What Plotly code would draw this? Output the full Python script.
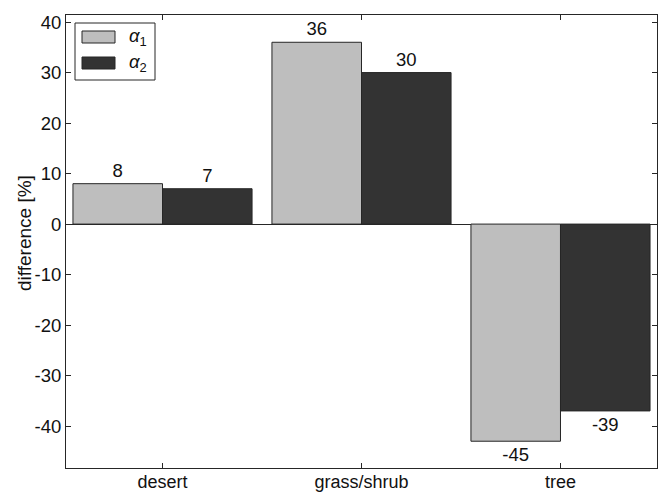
import plotly.graph_objects as go

categories = ["desert", "grass/shrub", "tree"]
alpha1_values = [8, 36, -43]
alpha2_values = [7, 30, -37]
alpha1_labels = ["8", "36", "-45"]
alpha2_labels = ["7", "30", "-39"]
y_tick_values = [-40, -30, -20, -10, 0, 10, 20, 30, 40]
y_tick_labels = ["-40", "-30", "-20", "-10", "0", "10", "20", "30", "40"]
y_title = "difference [%]"
series_names = ["<i>α</i><sub>1</sub>", "<i>α</i><sub>2</sub>"]
series_colors = ["#bebebe", "#333333"]
edge = "#262626"

fig = go.Figure()
for vals, labels, name, col in [(alpha1_values, alpha1_labels, series_names[0], series_colors[0]),
                                (alpha2_values, alpha2_labels, series_names[1], series_colors[1])]:
    fig.add_trace(go.Bar(
        x=categories, y=vals, text=labels, textposition="outside",
        name=name, showlegend=False,
        marker=dict(color=col, line=dict(color=edge, width=1)),
        textfont=dict(size=18.5, color="#111111"), cliponaxis=False,
    ))

# legend and axis title placed in paper coordinates (plot area: x 66..657, y 15..468)
W, H = 591.0, 453.0
def px(x):
    return (x - 66) / W
def py(y):
    return (468 - y) / H

shapes = [dict(type="rect", xref="paper", yref="paper",
               x0=px(75), x1=px(155), y0=py(80), y1=py(23),
               line=dict(color=edge, width=1), fillcolor="white", layer="above")]
annotations = []
for i, (name, col) in enumerate(zip(series_names, series_colors)):
    yc = 37 + i * 26
    shapes.append(dict(type="rect", xref="paper", yref="paper",
                       x0=px(82), x1=px(115), y0=py(yc + 6), y1=py(yc - 6),
                       line=dict(color=edge, width=1), fillcolor=col, layer="above"))
    annotations.append(dict(xref="paper", yref="paper", x=px(127), y=py(yc),
                            xanchor="left", yanchor="middle", showarrow=False,
                            text=name, font=dict(size=18.5, color="#111111")))
annotations.append(dict(xref="paper", yref="paper", x=px(24), y=py(233),
                        xanchor="center", yanchor="middle", showarrow=False,
                        textangle=-90, text=y_title,
                        font=dict(size=19, color="#111111")))

fig.update_layout(
    width=660, height=493,
    margin=dict(l=66, r=3, t=15, b=25),
    paper_bgcolor="white", plot_bgcolor="white",
    font=dict(family="Liberation Sans, Arial, sans-serif", size=18, color="#111111"),
    barmode="group", bargap=0.1, bargroupgap=0,
    shapes=shapes, annotations=annotations,
)
fig.update_xaxes(
    range=[-0.485, 2.485], showline=True, linecolor=edge, linewidth=1,
    mirror="ticks", ticks="inside", ticklen=5, tickcolor=edge,
    tickfont=dict(size=18), showgrid=False, automargin=False,
    ticklabelstandoff=-3,
)
fig.update_yaxes(
    range=[-48.3, 41.4], tickvals=y_tick_values, ticktext=y_tick_labels,
    showline=True, linecolor=edge, automargin=False,
    linewidth=1, mirror="ticks", ticks="inside", ticklen=5, tickcolor=edge,
    tickfont=dict(size=18.5), showgrid=False, zeroline=True, zerolinecolor=edge,
    zerolinewidth=1,
)

fig.write_html("out.html")
